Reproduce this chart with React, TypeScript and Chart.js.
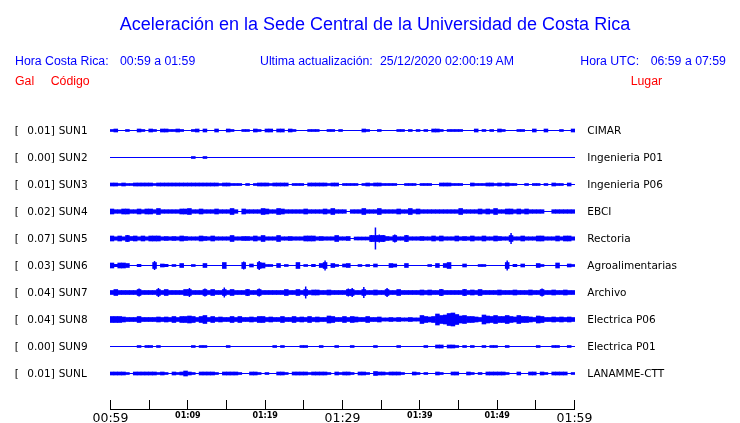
import React, { useEffect, useRef } from 'react';
import { Chart, registerables } from 'chart.js';

Chart.register(...registerables);

// ---------- data ----------
const titleText = 'Aceleración en la Sede Central de la Universidad de Costa Rica';
const localRange = '00:59 a 01:59';
const utcRange = '06:59 a 07:59';
const lastUpdate = '25/12/2020 02:00:19 AM';

const galValues = ['0.01', '0.00', '0.01', '0.02', '0.07', '0.03', '0.04', '0.04', '0.00', '0.01'];
const stationCodes = ['SUN1', 'SUN2', 'SUN3', 'SUN4', 'SUN5', 'SUN6', 'SUN7', 'SUN8', 'SUN9', 'SUNL'];
const places = ['CIMAR', 'Ingenieria P01', 'Ingenieria P06', 'EBCI', 'Rectoria', 'Agroalimentarias', 'Archivo', 'Electrica P06', 'Electrica P01', 'LANAMME-CTT'];

// minutes after 00:59, tick every 5 minutes
const timeTickLabels = ['00:59', '', '01:09', '', '01:19', '', '01:29', '', '01:39', '', '01:49', '', '01:59'];
const windowMinutes = 60;
const sampleStep = 0.5; // minutes per envelope sample

// amplitude envelopes (half height), one value per 30 s
const sun1 = [
  1, 1.5, 0, 0, 1, 0, 0, 1.5, 1, 0,
  1.5, 1, 0, 1.5, 1.5, 1, 1, 1.5, 1, 0,
  0, 1, 1.5, 0, 1.5, 0, 0, 1.5, 0, 0,
  1.5, 1, 0, 0, 1, 1, 0, 1.5, 1, 0,
  1.5, 1.5, 0, 1.5, 1.5, 0, 1.5, 1, 0, 0,
  0, 1, 1, 1, 0, 0, 1, 1, 0, 1,
  0, 0, 0, 0, 0, 1.5, 1, 0, 0, 1,
  0, 0, 0, 0, 1, 1, 0, 1, 0, 1,
  0, 1, 0, 1.5, 1.5, 1, 0, 1, 1, 1,
  1, 0, 0, 0, 1.5, 0, 1, 0, 1, 0,
  1.5, 1, 0, 0, 0, 1, 1, 0, 0, 1.5,
  0, 0, 1.5, 0, 0, 0, 1, 0, 0, 1.5,
];
const sun2 = [
  0, 0, 0, 0, 0, 0, 0, 0, 0, 0,
  0, 0, 0, 0, 0, 0, 0, 0, 0, 0,
  0, 1, 0, 0, 1, 0, 0, 0, 0, 0,
  0, 0, 0, 0, 0, 0, 0, 0, 0, 0,
  0, 0, 0, 0, 0, 0, 0, 0, 0, 0,
  0, 0, 0, 0, 0, 0, 0, 0, 0, 0,
  0, 0, 0, 0, 0, 0, 0, 0, 0, 0,
  0, 0, 0, 0, 0, 0, 0, 0, 0, 0,
  0, 0, 0, 0, 0, 0, 0, 0, 0, 0,
  0, 0, 0, 0, 0, 0, 0, 0, 0, 0,
  0, 0, 0, 0, 0, 0, 0, 0, 0, 0,
  0, 0, 0, 0, 0, 0, 0, 0, 0, 0,
];
const sun3 = [
  1.5, 1.5, 1, 1.5, 1, 1, 1.5, 1.5, 1.5, 1.5,
  1.5, 1, 1.5, 1.5, 1.5, 1.5, 1.5, 1.5, 1.5, 1.5,
  1.5, 1.5, 1.5, 1.5, 1.5, 1.5, 1.5, 1.5, 1, 1.5,
  1.5, 1, 1, 1, 0, 1, 0, 1, 1.5, 1.5,
  1.5, 1, 1.5, 1.5, 1.5, 1.5, 0, 1, 1, 1,
  0, 1.5, 1.5, 1.5, 1.5, 1.5, 1, 1.5, 1.5, 0,
  1, 1, 1, 1, 0, 1, 1.5, 1, 1.5, 1.5,
  1, 1, 1, 1, 0, 0, 1, 1, 1, 0,
  1, 1, 1, 0, 0, 1.5, 1.5, 1.5, 1, 1,
  1, 0, 0, 1.5, 1, 1, 1, 1.5, 1.5, 1,
  1.5, 1, 1.5, 1, 1, 0, 0, 1, 0, 1,
  1, 0, 1, 0, 1.5, 1, 1, 0, 1.5, 0,
];
const sun4 = [
  2.5, 1.8, 1.8, 2.5, 2.5, 1.8, 1.8, 2.5, 1.8, 2.5,
  2.5, 1.8, 3, 1.8, 1.8, 1.8, 1.8, 1.8, 2.5, 2.5,
  3, 1.8, 1.8, 2.5, 1.8, 1.8, 1.8, 2.5, 1.8, 1.8,
  1.8, 3, 1.8, 0, 2.5, 1.8, 1.8, 1.8, 1.8, 3,
  2.5, 1.8, 1.8, 3, 2.5, 1.8, 1.8, 1.8, 1.8, 1.8,
  2.5, 1.8, 1.8, 1.8, 1.8, 2.5, 1.8, 3, 1.8, 1.8,
  1.8, 0, 1.8, 1.8, 1.8, 3, 1.8, 1.8, 1.8, 3,
  1.8, 1.8, 1.8, 1.8, 2.5, 1.8, 1.8, 3, 1.8, 2.5,
  1.8, 1.8, 1.8, 1.8, 1.8, 1.8, 1.8, 1.8, 1.8, 1.8,
  3, 1.8, 1.8, 1.8, 1.8, 2.5, 1.8, 2.5, 1.8, 3,
  1.8, 1.8, 2.5, 2.5, 1.8, 2.5, 1.8, 2.5, 1.8, 1.8,
  1.8, 1.8, 0, 0, 1.8, 1.8, 1.8, 1.8, 1.8, 1.8,
];
const sun5 = [
  2.5, 1.7, 2.5, 1.7, 3.5, 2, 2.5, 1.7, 2.5, 1.7,
  2.5, 2.5, 2.5, 1.7, 2, 1.7, 2, 1.7, 2.5, 2,
  1.7, 1.7, 1.7, 2.5, 2, 1.7, 2.5, 1.7, 1.7, 1.7,
  1.7, 3, 1.7, 1.7, 2, 2, 1.7, 2.5, 1.7, 3,
  1.7, 1.7, 1.7, 3, 1.7, 1.7, 2, 1.7, 1.7, 1.7,
  2.5, 2.5, 2.5, 1.7, 2, 1.7, 1.7, 1.7, 3, 1.7,
  1.7, 2, 0, 1.5, 1.5, 1.5, 1.5, 3.5, 11, 4,
  3.5, 2, 1.7, 4, 1.7, 1.7, 3.5, 1.7, 1.7, 1.7,
  2, 1.7, 1.7, 2.5, 1.7, 2.5, 1.7, 1.7, 1.7, 2.5,
  1.7, 2, 1.7, 2.5, 1.7, 1.7, 2.5, 1.7, 1.7, 2.5,
  2, 1.7, 1.7, 5.5, 1.7, 1.7, 2.5, 1.7, 1.7, 1.7,
  2.5, 2.5, 1.7, 1.7, 1.7, 2.5, 1.7, 2.5, 2.5, 1.7,
];
const sun6 = [
  2.5, 1.2, 2.5, 2.5, 2, 0, 0, 1.2, 0, 0,
  0, 4.5, 0, 1.5, 1.2, 0, 1, 0, 2, 0,
  0, 1, 0, 0, 2, 0, 0, 0, 0, 3,
  0, 0, 0, 0, 4, 0, 1.5, 0, 4.5, 2.5,
  1, 1, 0, 2, 0, 1, 0, 0, 3, 0,
  1, 0, 1.2, 0, 2, 5, 0, 2, 1, 0,
  1.5, 2, 0, 0, 1, 0, 1, 0, 1.5, 0,
  0, 0, 2, 1.5, 0, 0, 2, 0, 0, 0,
  0, 0, 1, 0, 2, 0, 2, 3, 0, 0,
  0, 1.5, 0, 0, 0, 1, 1, 0, 0, 0,
  0, 0, 5, 0, 1.2, 0, 1.5, 0, 0, 0,
  2, 1, 0, 0, 0, 2.5, 0, 0, 1.5, 1,
];
const sun7 = [
  2, 3, 2, 2, 2, 2, 2, 4, 2, 2,
  2, 2, 4.5, 2, 3, 2, 2, 2, 2, 3,
  4.5, 2, 2, 2, 4, 2, 3, 2, 2, 5,
  2, 3, 2, 2, 2, 3.5, 2, 2, 4, 2,
  2, 2, 2, 2, 2, 3, 2, 2, 3, 2,
  6, 2, 2.5, 2.5, 2, 2, 2.5, 2, 2, 2,
  2, 4, 4.5, 2, 2, 5.5, 2, 2, 2.5, 2,
  2, 4.5, 2, 2, 3, 2, 2, 2, 2, 2,
  2.5, 2, 2.5, 2, 2, 3.5, 2, 2, 2, 2,
  2, 3.5, 2, 2.5, 2, 3, 2, 2, 2, 2,
  2.5, 2, 2, 2, 2.5, 2, 2, 2, 2.5, 2,
  2, 4, 2, 2, 2.5, 2, 2, 2.5, 2, 2,
];
const sun8 = [
  3, 3, 3, 2.5, 2, 2, 2, 3, 2, 2,
  2, 2, 2.5, 2, 2.5, 2, 3, 2, 3, 3,
  3.5, 3, 2, 3, 4, 2, 3, 2, 2.5, 2,
  2, 3, 2, 3, 2, 2, 2.5, 2, 3, 3,
  2, 2.5, 2, 2, 3, 2, 2, 3, 2, 2.5,
  2, 3, 2, 2.5, 2, 2, 3.5, 3, 2, 2,
  3, 2, 3, 2.5, 2, 2, 3, 2, 2, 2.5,
  1.6, 1.6, 2, 1.6, 2, 1.6, 1.6, 2, 1.6, 1.6,
  4, 3, 2.5, 3, 5.5, 4, 4.5, 6, 6.5, 5,
  3.5, 4, 3, 3, 2.5, 2, 4.5, 3.5, 3, 4,
  3, 3, 4, 3, 2.5, 4, 3, 3, 2.5, 2,
  3.5, 3, 2, 2, 2.5, 2, 2.5, 2, 2.5, 2,
];
const sun9 = [
  0, 0, 0, 0, 0, 0, 0, 1, 0, 1,
  1, 0, 1, 0, 0, 0, 0, 0, 0, 0,
  0, 1, 0, 1, 1, 0, 0, 0, 0, 0,
  1, 0, 0, 0, 0, 0, 0, 0, 0, 0,
  0, 0, 1, 0, 1, 0, 0, 0, 0, 1,
  1, 0, 0, 0, 1, 0, 0, 0, 1, 0,
  0, 0, 1, 0, 0, 0, 0, 0, 1, 0,
  0, 0, 0, 0, 1, 0, 0, 0, 0, 0,
  0, 1, 0, 0, 1.5, 1.5, 0, 1.5, 1.5, 1,
  0, 1, 0, 1, 0, 0, 1, 0, 1, 1,
  0, 0, 1, 0, 0, 0, 0, 0, 0, 0,
  1, 0, 0, 0, 1, 1, 0, 0, 1, 0,
];
const sunL = [
  1.5, 1.5, 1.5, 1.5, 1, 0, 1.5, 1.5, 1.5, 1.5,
  1.5, 1.5, 1, 1.5, 1, 0, 1.5, 1, 1.5, 2.5,
  1.5, 1, 0, 1.5, 1.5, 1.5, 1.5, 1, 0, 1.5,
  1.5, 1.5, 1.5, 1, 0, 0, 1.5, 1.5, 1, 0,
  1, 0, 0, 1.5, 1.5, 1, 0, 1.5, 1.5, 1.5,
  1.5, 1, 1.5, 1.5, 1.5, 1.5, 1, 0, 1.5, 1,
  1.5, 1.5, 1, 0, 1.5, 1.5, 1, 0, 2, 1.5,
  1.5, 1, 1.5, 1.5, 1.5, 1, 0, 0, 1.5, 1,
  0, 1, 0, 0, 1.5, 1, 0, 0, 1.5, 1.5,
  0, 0, 1.5, 1, 0, 1, 0, 1.5, 1.5, 1.5,
  1.5, 1.5, 1, 0, 0, 1.5, 0, 0, 1.5, 1.5,
  0, 1.5, 1, 0, 1.5, 1.5, 1.5, 1.5, 0, 1,
];
const traces = [sun1, sun2, sun3, sun4, sun5, sun6, sun7, sun8, sun9, sunL];

// ---------- styles ----------
const BLUE = '#0000ff';
const RED = '#ff0000';
const HEAD_FONT = '"Liberation Sans", Arial, sans-serif';
const LABEL_FONT = '"DejaVu Sans", sans-serif';
// envelope drawn full-width up to this half-height per row; taller peaks drawn as thin spikes
const burstCaps = [3, 3, 3, 3, 3, 3, 3, 7, 3, 3];

const txt = (left: number, top: number, size: number, color: string, family: string, extra: any = {}) => ({
  position: 'fixed' as const,
  left,
  top,
  fontSize: size,
  lineHeight: `${size}px`,
  color,
  fontFamily: family,
  whiteSpace: 'pre' as const,
  margin: 0,
  ...extra,
});

export default function App() {
  const tracesRef = useRef<HTMLCanvasElement>(null);
  const axisRef = useRef<HTMLCanvasElement>(null);

  useEffect(() => {
    document.body.style.margin = '0';
    document.body.style.overflow = 'hidden';

    const rowValue = (i: number) => 279.5 - 27 * i;
    const datasets: any[] = [];
    traces.forEach((arr, i) => {
      const c = rowValue(i);
      const cap = burstCaps[i];
      datasets.push({
        type: 'line',
        data: [{ x: 0, y: c }, { x: windowMinutes, y: c }],
        borderColor: BLUE,
        borderWidth: 1,
        pointRadius: 0,
        order: 2,
      });
      datasets.push({
        type: 'bar',
        data: arr.map((a, k) => {
          const h = Math.min(a, cap);
          return { x: (k + 0.5) * sampleStep, y: a > 0 ? [c - h, c + h] : null };
        }),
        backgroundColor: BLUE,
        borderWidth: 0,
        grouped: false,
        barPercentage: 1,
        categoryPercentage: 1,
        order: 1,
      });
      datasets.push({
        type: 'bar',
        data: arr.map((a, k) => ({ x: (k + 0.5) * sampleStep, y: a > cap ? [c - a, c + a] : null })),
        backgroundColor: BLUE,
        borderWidth: 0,
        grouped: false,
        barPercentage: 1,
        categoryPercentage: 1,
        maxBarThickness: 1.5,
        inflateAmount: 0,
        order: 0,
      });
    });

    const traceChart = new Chart(tracesRef.current as HTMLCanvasElement, {
      type: 'bar',
      data: { datasets },
      options: {
        responsive: false,
        animation: false,
        events: [],
        layout: { padding: { left: 110, right: 165, top: 110, bottom: 13 } },
        plugins: { legend: { display: false }, tooltip: { enabled: false } },
        scales: {
          x: { type: 'linear', display: false, min: 0, max: windowMinutes, offset: false },
          y: { type: 'linear', display: false, min: 0, max: 300 },
        },
      } as any,
    });

    const axisChart = new Chart(axisRef.current as HTMLCanvasElement, {
      type: 'line',
      data: { datasets: [] },
      options: {
        responsive: false,
        animation: false,
        events: [],
        layout: { padding: { left: 110.5, right: 165.5, top: 400, bottom: 440 - 409.5 - 20 } },
        plugins: { legend: { display: false }, tooltip: { enabled: false } },
        scales: {
          x: {
            type: 'linear',
            min: 0,
            max: windowMinutes,
            afterFit: (s: any) => {
              s.height = 20;
            },
            ticks: {
              stepSize: 5,
              autoSkip: false,
              maxRotation: 0,
              padding: 2,
              color: '#000',
              callback: (v: any) => timeTickLabels[Math.round(Number(v) / 5)] ?? '',
              font: (ctx: any) =>
                ctx.index % 6 === 0
                  ? { family: 'DejaVu Sans', size: 12.5, weight: 'normal' }
                  : { family: 'DejaVu Sans', size: 8, weight: 'bold' },
            },
            grid: { display: true, drawOnChartArea: true, drawTicks: false, color: '#000', lineWidth: 1 },
            border: { display: true, color: '#000', width: 1 },
          },
          y: { display: false, min: 0, max: 1 },
        },
      } as any,
    });

    return () => {
      traceChart.destroy();
      axisChart.destroy();
    };
  }, []);

  const rowTop = (i: number) => 125.4 + 27 * i;

  return (
    <div>
      <div style={{ position: 'fixed', left: 0, top: 0, width: 740, height: 423, background: '#fff' }} />
      <canvas ref={tracesRef} width={740} height={423} style={{ position: 'fixed', left: 0, top: 0 }} />
      <canvas ref={axisRef} width={740} height={440} style={{ position: 'fixed', left: 0, top: 0 }} />

      <div style={txt(375, 14.8, 18, BLUE, HEAD_FONT, { transform: 'translateX(-50%)' })}>{titleText}</div>

      <div style={txt(15, 54.6, 12.3, BLUE, HEAD_FONT)}>Hora Costa Rica:</div>
      <div style={txt(120, 54.6, 12.3, BLUE, HEAD_FONT)}>{localRange}</div>
      <div style={txt(260, 54.6, 12.3, BLUE, HEAD_FONT)}>Ultima actualización:</div>
      <div style={txt(380, 54.6, 12.3, BLUE, HEAD_FONT)}>{lastUpdate}</div>
      <div style={txt(580.3, 54.6, 12.3, BLUE, HEAD_FONT)}>Hora UTC:</div>
      <div style={txt(650.7, 54.6, 12.3, BLUE, HEAD_FONT)}>{utcRange}</div>

      <div style={txt(15, 74.6, 12.3, RED, HEAD_FONT)}>Gal</div>
      <div style={txt(50.7, 74.6, 12.3, RED, HEAD_FONT)}>Código</div>
      <div style={txt(630.7, 74.6, 12.3, RED, HEAD_FONT)}>Lugar</div>

      {stationCodes.map((code, i) => (
        <React.Fragment key={code}>
          <div style={txt(14.7, rowTop(i), 10.5, '#000', LABEL_FONT)}>[</div>
          <div style={txt(27.3, rowTop(i), 10.5, '#000', LABEL_FONT)}>{galValues[i]}]</div>
          <div style={txt(58.7, rowTop(i), 10.5, '#000', LABEL_FONT)}>{code}</div>
          <div style={txt(587.3, rowTop(i), 10.5, '#000', LABEL_FONT)}>{places[i]}</div>
        </React.Fragment>
      ))}
    </div>
  );
}
